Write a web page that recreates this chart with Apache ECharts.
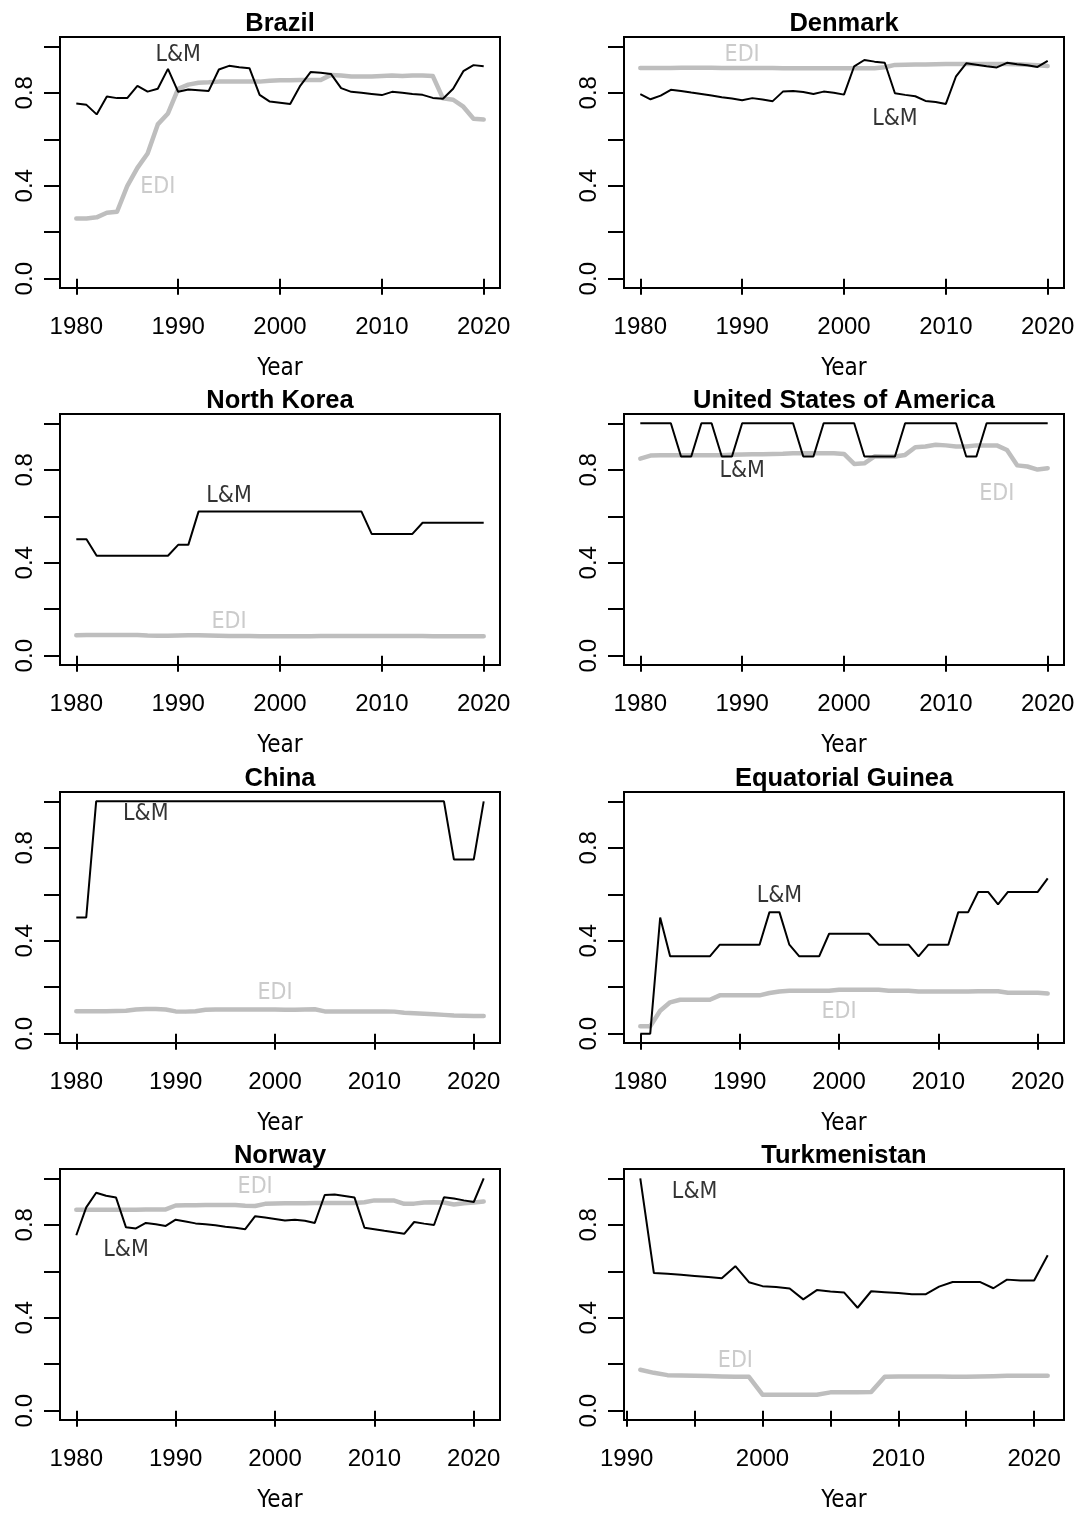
<!DOCTYPE html>
<html>
<head>
<meta charset="utf-8">
<script src="https://cdn.jsdelivr.net/npm/echarts@6/dist/echarts.min.js"></script>
<style>
  html, body { margin: 0; padding: 0; background: #ffffff; }
  #chart { width: 1082px; height: 1514px; }
</style>
</head>
<body>
<div id="chart"></div>
<script>
// Liberal & minority (L&M) index vs. electoral democracy index (EDI), by country and year.

const countries = ['Brazil', 'Denmark', 'North Korea', 'United States of America',
                   'China', 'Equatorial Guinea', 'Norway', 'Turkmenistan'];
const firstYear = [1980, 1980, 1980, 1980, 1980, 1980, 1980, 1991];

const brazilLM = [0.754,0.748,0.707,0.784,0.777,0.777,0.830,0.805,0.817,0.903,
                  0.804,0.814,0.811,0.808,0.900,0.916,0.910,0.906,0.791,0.762,
                  0.757,0.752,0.831,0.889,0.886,0.881,0.820,0.804,0.800,0.795,
                  0.790,0.804,0.800,0.795,0.791,0.778,0.774,0.817,0.893,0.919,
                  0.914];
const brazilEDI = [0.259,0.259,0.264,0.284,0.288,0.398,0.477,0.539,0.664,0.711,
                   0.817,0.835,0.843,0.845,0.848,0.848,0.848,0.848,0.848,0.852,
                   0.854,0.854,0.855,0.855,0.855,0.877,0.874,0.870,0.870,0.870,
                   0.872,0.874,0.872,0.874,0.874,0.872,0.776,0.770,0.740,0.688,
                   0.685];

const denmarkLM = [0.794,0.772,0.788,0.813,0.808,0.801,0.795,0.788,0.781,0.775,
                   0.768,0.777,0.771,0.764,0.805,0.808,0.803,0.795,0.805,0.800,
                   0.792,0.914,0.941,0.934,0.929,0.798,0.791,0.785,0.765,0.760,
                   0.752,0.871,0.927,0.921,0.914,0.909,0.929,0.923,0.918,0.911,
                   0.937];
const denmarkEDI = [0.907,0.907,0.907,0.907,0.908,0.908,0.908,0.908,0.907,0.907,
                    0.907,0.907,0.907,0.907,0.906,0.906,0.906,0.906,0.906,0.906,
                    0.906,0.906,0.906,0.906,0.910,0.920,0.921,0.922,0.922,0.923,
                    0.924,0.924,0.924,0.924,0.924,0.924,0.924,0.923,0.921,0.918,
                    0.915];

const northKoreaLM = [0.501,0.501,0.430,0.430,0.430,0.430,0.430,0.430,0.430,0.430,
                      0.477,0.477,0.620,0.620,0.620,0.620,0.620,0.620,0.620,0.620,
                      0.620,0.620,0.620,0.620,0.620,0.620,0.620,0.620,0.620,0.524,
                      0.524,0.524,0.524,0.524,0.572,0.572,0.572,0.572,0.572,0.572,
                      0.572];
const northKoreaEDI = [0.088,0.089,0.089,0.089,0.089,0.089,0.089,0.087,0.086,0.086,
                       0.087,0.088,0.088,0.087,0.086,0.085,0.085,0.085,0.084,0.084,
                       0.084,0.084,0.084,0.084,0.085,0.085,0.085,0.085,0.085,0.085,
                       0.085,0.085,0.085,0.085,0.085,0.084,0.084,0.084,0.084,0.084,
                       0.084];

const usaLM = [1.000,1.000,1.000,1.000,0.857,0.857,1.000,1.000,0.857,0.857,
               1.000,1.000,1.000,1.000,1.000,1.000,0.857,0.857,1.000,1.000,
               1.000,1.000,0.857,0.857,0.857,0.857,1.000,1.000,1.000,1.000,
               1.000,1.000,0.857,0.857,1.000,1.000,1.000,1.000,1.000,1.000,
               1.000];
const usaEDI = [0.848,0.861,0.862,0.862,0.862,0.862,0.862,0.862,0.863,0.865,
                0.866,0.867,0.867,0.868,0.869,0.871,0.871,0.871,0.871,0.871,
                0.868,0.825,0.828,0.858,0.857,0.857,0.864,0.897,0.900,0.908,
                0.905,0.900,0.900,0.905,0.905,0.905,0.885,0.819,0.814,0.801,
                0.807];

const chinaLM = [0.500,0.500,1.000,1.000,1.000,1.000,1.000,1.000,1.000,1.000,
                 1.000,1.000,1.000,1.000,1.000,1.000,1.000,1.000,1.000,1.000,
                 1.000,1.000,1.000,1.000,1.000,1.000,1.000,1.000,1.000,1.000,
                 1.000,1.000,1.000,1.000,1.000,1.000,1.000,1.000,0.750,0.750,
                 0.750,1.000];
const chinaEDI = [0.097,0.097,0.097,0.097,0.098,0.099,0.104,0.106,0.106,0.104,
                  0.096,0.095,0.097,0.103,0.104,0.104,0.104,0.104,0.104,0.104,
                  0.104,0.103,0.103,0.104,0.105,0.096,0.096,0.096,0.096,0.096,
                  0.096,0.096,0.095,0.090,0.088,0.086,0.084,0.081,0.078,0.077,
                  0.076,0.076];

const eqGuineaLM = [0.000,0.000,0.500,0.333,0.333,0.333,0.333,0.333,0.383,0.383,
                    0.383,0.383,0.383,0.523,0.523,0.383,0.333,0.333,0.333,0.430,
                    0.430,0.430,0.430,0.430,0.383,0.383,0.383,0.383,0.333,0.383,
                    0.383,0.383,0.523,0.523,0.610,0.610,0.556,0.610,0.610,0.610,
                    0.610,0.668];
const eqGuineaEDI = [0.032,0.032,0.099,0.135,0.146,0.146,0.146,0.146,0.165,0.165,
                     0.165,0.165,0.165,0.175,0.182,0.185,0.185,0.185,0.185,0.185,
                     0.189,0.189,0.189,0.189,0.189,0.185,0.185,0.185,0.182,0.182,
                     0.182,0.182,0.182,0.182,0.183,0.183,0.183,0.176,0.176,0.176,
                     0.176,0.173];

const norwayLM = [0.755,0.875,0.938,0.925,0.917,0.789,0.784,0.808,0.802,0.795,
                  0.822,0.814,0.806,0.802,0.798,0.792,0.787,0.781,0.837,0.831,
                  0.825,0.818,0.822,0.817,0.808,0.928,0.930,0.924,0.917,0.787,
                  0.781,0.774,0.768,0.761,0.812,0.805,0.799,0.918,0.913,0.905,
                  0.898,1.000];
const norwayEDI = [0.865,0.865,0.865,0.865,0.865,0.865,0.865,0.866,0.866,0.866,
                   0.883,0.884,0.884,0.885,0.885,0.885,0.885,0.882,0.881,0.890,
                   0.892,0.893,0.893,0.893,0.894,0.894,0.894,0.894,0.894,0.897,
                   0.905,0.905,0.904,0.890,0.891,0.896,0.897,0.896,0.887,0.893,
                   0.896,0.900];

const turkmenistanLM = [1.000,0.592,0.589,0.585,0.580,0.575,0.570,0.622,0.553,0.536,
                        0.532,0.526,0.479,0.519,0.513,0.509,0.443,0.514,0.510,0.506,
                        0.501,0.501,0.534,0.554,0.554,0.554,0.527,0.564,0.560,0.560,
                        0.669];
const turkmenistanEDI = [0.176,0.163,0.153,0.152,0.150,0.149,0.147,0.146,0.146,0.069,
                         0.069,0.069,0.069,0.069,0.079,0.079,0.079,0.080,0.146,0.147,
                         0.147,0.147,0.147,0.146,0.146,0.147,0.148,0.150,0.150,0.150,
                         0.150];

// x-axis tick marks and the subset of them that carry a label
const yearTicks = [1980, 1990, 2000, 2010, 2020];
const yearTicksTkm = [1990, 1995, 2000, 2005, 2010, 2015, 2020];
const yearLabelsTkm = [1990, 2000, 2010, 2020];
const valueTicks = [0, 0.2, 0.4, 0.6, 0.8, 1.0];
const valueLabels = [0, 0.4, 0.8];

// where the "L&M" and "EDI" tags sit in each panel, in data units [year, value]
const tagLM  = [[1990, 0.964], [2005, 0.688], [1995, 0.685], [1990, 0.795],
                [1987, 0.944], [1994, 0.593], [1985, 0.692], [1995, 0.942]];
const tagEDI = [[1988, 0.396], [1990, 0.964], [1995, 0.147], [2015, 0.696],
                [2000, 0.175], [2000, 0.095], [1998, 0.964], [1998, 0.215]];

const lmSeries  = [brazilLM, denmarkLM, northKoreaLM, usaLM, chinaLM, eqGuineaLM, norwayLM, turkmenistanLM];
const ediSeries = [brazilEDI, denmarkEDI, northKoreaEDI, usaEDI, chinaEDI, eqGuineaEDI, norwayEDI, turkmenistanEDI];

const FONT_TEXT = "'DejaVu Sans Condensed', 'Liberation Sans', sans-serif";
const FONT_NUM = "'Liberation Sans', Arial, sans-serif";
const GREY = '#bebebe';

// panel geometry (pixels)
const colLeft = [60, 624];
const rowTop = [37, 414, 792, 1169];
const plotW = 440, plotH = 251;

function pairs(start, values) {
  return values.map((v, i) => [start + i, v]);
}

const grids = [], xAxes = [], yAxes = [], series = [], graphics = [];

countries.forEach((name, i) => {
  const col = i % 2, row = Math.floor(i / 2);
  const left = colLeft[col], top = rowTop[row];
  grids.push({
    left: left, top: top, width: plotW, height: plotH,
    show: true, borderColor: '#000', borderWidth: 2, backgroundColor: 'transparent'
  });

  const y0 = firstYear[i];
  const y1 = y0 + lmSeries[i].length - 1;
  const pad = (y1 - y0) * 0.04;
  const isTkm = name === 'Turkmenistan';

  xAxes.push({
    type: 'value', gridIndex: i, min: y0 - pad, max: y1 + pad,
    name: 'Year', nameLocation: 'middle', nameGap: 69,
    nameTextStyle: { fontFamily: FONT_TEXT, fontSize: 24, color: '#000' },
    axisLine: { show: false },
    splitLine: { show: false },
    axisTick: { show: true, inside: false, length: 16,
                lineStyle: { color: '#000', width: 2 },
                customValues: isTkm ? yearTicksTkm : yearTicks },
    axisLabel: { show: true, margin: 27, fontFamily: FONT_NUM, fontSize: 24, color: '#000',
                 customValues: isTkm ? yearLabelsTkm : yearTicks,
                 formatter: v => String(Math.round(v)) }
  });

  yAxes.push({
    type: 'value', gridIndex: i, min: -0.04, max: 1.04,
    axisLine: { show: false },
    splitLine: { show: false },
    axisTick: { show: true, inside: false, length: 16,
                lineStyle: { color: '#000', width: 2 },
                customValues: valueTicks },
    axisLabel: { show: true, margin: 23, rotate: 90, fontFamily: FONT_NUM, fontSize: 24, color: '#000',
                 customValues: valueLabels,
                 formatter: v => v.toFixed(1) }
  });

  series.push({
    type: 'line', xAxisIndex: i, yAxisIndex: i, name: 'EDI',
    data: pairs(y0, ediSeries[i]),
    showSymbol: false, symbol: 'none', smooth: false,
    lineStyle: { color: GREY, width: 4.5, cap: 'round', join: 'round' },
    z: 2, silent: true
  });
  series.push({
    type: 'line', xAxisIndex: i, yAxisIndex: i, name: 'L&M',
    data: pairs(y0, lmSeries[i]),
    showSymbol: false, symbol: 'none', smooth: false,
    lineStyle: { color: '#000', width: 2 },
    z: 3, silent: true
  });
  series.push({
    type: 'scatter', xAxisIndex: i, yAxisIndex: i,
    symbolSize: 1, itemStyle: { color: 'rgba(0,0,0,0)' },
    silent: true, z: 4,
    data: [
      { value: tagLM[i], label: { formatter: 'L&M', color: '#000' } },
      { value: tagEDI[i], label: { formatter: 'EDI', color: GREY } }
    ],
    label: { show: true, position: 'inside', fontFamily: FONT_TEXT, fontSize: 23 }
  });

  graphics.push({
    type: 'text',
    x: left + plotW / 2, y: top - 13,
    style: { text: name, fontFamily: FONT_NUM, fontWeight: 'bold', fontSize: 25.5,
             fill: '#000', textAlign: 'center', textVerticalAlign: 'middle' },
    silent: true
  });
});

const chart = echarts.init(document.getElementById('chart'), null, { renderer: 'canvas' });
chart.setOption({
  animation: false,
  backgroundColor: '#ffffff',
  grid: grids,
  xAxis: xAxes,
  yAxis: yAxes,
  series: series,
  graphic: graphics
});
</script>
</body>
</html>
